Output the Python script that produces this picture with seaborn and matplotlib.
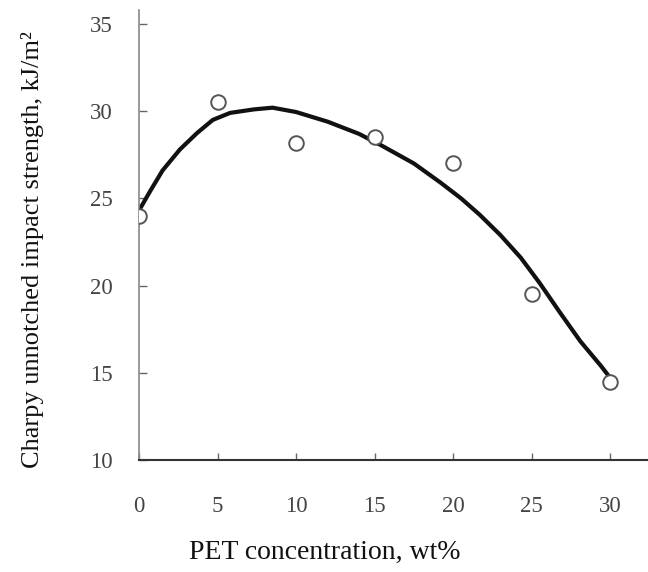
import pandas as pd
import numpy as np
import matplotlib
matplotlib.use("Agg")
import matplotlib.pyplot as plt
import seaborn as sns

# measured points
pet = [0, 5, 10, 15, 20, 25, 30]
impact = [24.0, 30.5, 28.2, 28.5, 27.0, 19.5, 14.5]

# fitted curve
fit_x = [0, 0.7, 1.5, 2.6, 3.7, 4.7, 5.8, 7.3, 8.5, 10, 12, 14, 15.4, 17.5,
         19.2, 20.5, 21.7, 23, 24.3, 25.5, 26.8, 28.1, 29.4, 30]
fit_y = [24.3, 25.4, 26.6, 27.8, 28.75, 29.5, 29.9, 30.1, 30.2, 29.95, 29.4, 28.7, 28.05, 27.0,
         25.9, 25.0, 24.05, 22.9, 21.6, 20.15, 18.45, 16.8, 15.4, 14.7]

xticks = [0, 5, 10, 15, 20, 25, 30]
yticks = [10, 15, 20, 25, 30, 35]

sns.set_style("ticks")
plt.rcParams['font.family'] = ['Liberation Serif', 'DejaVu Serif']

df_pts = pd.DataFrame({'pet': pet, 'impact': impact})
df_fit = pd.DataFrame({'pet': fit_x, 'impact': fit_y})

fig = plt.figure(figsize=(6.48, 5.72), dpi=100)
W, H = 648, 572
ax = fig.add_axes([139 / W, 1 - 460 / H, (648 - 139) / W, 450 / H])

sns.lineplot(data=df_fit, x='pet', y='impact', color='#111111', linewidth=3, ax=ax)
sns.scatterplot(data=df_pts, x='pet', y='impact', ax=ax, s=110, marker='o',
                facecolor='white', edgecolor='#555555', linewidth=1.4, zorder=3)

ax.set_xlim(0, 32.4)
ax.set_ylim(10, 35.8)
ax.set_xticks(xticks)
ax.set_yticks(yticks)

sns.despine(ax=ax)
ax.spines['left'].set_color('#888888')
ax.spines['bottom'].set_color('#333333')
ax.spines['left'].set_linewidth(1.2)
ax.spines['bottom'].set_linewidth(1.5)

ax.tick_params(axis='y', direction='in', length=6, width=1, color='#666666',
               pad=19, labelsize=16.5, labelcolor='#444444')
ax.tick_params(axis='x', direction='in', length=5, width=1, color='#666666',
               pad=26, labelsize=16.5, labelcolor='#444444')

ax.set_xlabel('PET concentration, wt%', fontsize=20, color='#111111')
ax.set_ylabel('Charpy unnotched impact strength, kJ/m²', fontsize=19, color='#111111')
ax.xaxis.set_label_coords((325 - 139) / 509, (460 - 540) / 450)
ax.yaxis.set_label_coords((44 - 139) / 509, (460 - 250) / 450)

fig.savefig('out.png', dpi=100)
